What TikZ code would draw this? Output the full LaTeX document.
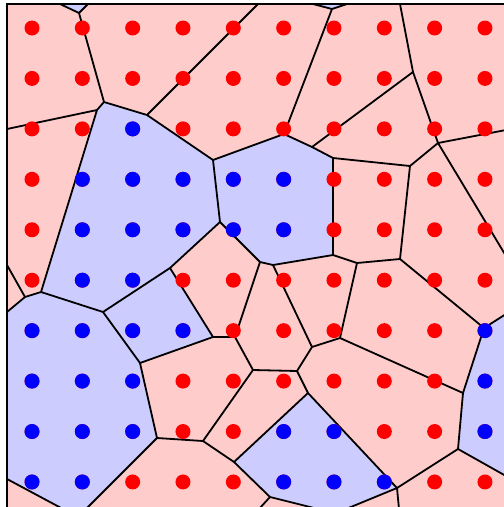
\documentclass[tikz,border=0pt]{standalone}
\definecolor{cpink}{HTML}{FFCCCC}
\definecolor{cblue}{HTML}{CCCCFF}
\begin{document}
\begin{tikzpicture}[x=1pt,y=-1pt,
  edge/.style={line width=1.8pt, line join=round, line cap=round},
  framed/.style={line width=1.6pt},
  rdot/.style={fill=red},
  bdot/.style={fill=blue}]
\useasboundingbox (0,0) rectangle (504,507);
\begin{scope}
\clip (7,4) rectangle (506,509);
\fill[cpink] (7,4) rectangle (506,509);
% blue cells
\fill[cblue] (60,4) -- (88,4) -- (79,13) -- cycle;
\fill[cblue] (313,4) -- (347,4) -- (332,9) -- cycle;
\fill[cblue] (97,110) -- (104,102) -- (147,115) -- (213,160) -- (220,222) -- (170,268) -- (103,312) -- (41,292) -- cycle;
\fill[cblue] (213,160) -- (284,134) -- (312,147) -- (333,158) -- (333,255) -- (273,265) -- (260,262) -- (220,222) -- cycle;
\fill[cblue] (103,312) -- (170,268) -- (213,337) -- (140,363) -- cycle;
\fill[cblue] (7,312) -- (25,297) -- (41,292) -- (103,312) -- (140,363) -- (157,438) -- (88,507) -- (60,507) -- (7,479) -- cycle;
\fill[cblue] (308,393) -- (397,488) -- (350,507) -- (311,507) -- (270,497) -- (234,462) -- cycle;
\fill[cblue] (484,328) -- (506,314) -- (506,476) -- (458,449) -- (463,393) -- cycle;
% edges
\draw[edge]
  (60,4) -- (79,13) (88,4) -- (79,13) (79,13) -- (104,102)
  (104,102) -- (97,110) (97,110) -- (7,129) (97,110) -- (41,292)
  (104,102) -- (147,115) (147,115) -- (258,4) (147,115) -- (213,160)
  (213,160) -- (284,134) (284,134) -- (332,9) (313,4) -- (332,9) (347,4) -- (332,9)
  (284,134) -- (312,147) (312,147) -- (413,72) (312,147) -- (333,158)
  (400,4) -- (413,72) (413,72) -- (438,143) (438,143) -- (506,130)
  (438,143) -- (410,166) (438,143) -- (506,256)
  (333,158) -- (410,166) (333,158) -- (333,255) (410,166) -- (400,259)
  (213,160) -- (220,222) (220,222) -- (260,262) (260,262) -- (273,265)
  (273,265) -- (333,255) (333,255) -- (357,263) (357,263) -- (400,259)
  (400,259) -- (484,328) (484,328) -- (506,314) (484,328) -- (463,393)
  (463,393) -- (340,338) (357,263) -- (340,338) (340,338) -- (312,347)
  (273,265) -- (312,347) (312,347) -- (297,371) (297,371) -- (253,370)
  (297,371) -- (308,393) (308,393) -- (234,462) (308,393) -- (397,488)
  (463,393) -- (458,449) (458,449) -- (506,476) (458,449) -- (397,488)
  (397,488) -- (399,509) (397,488) -- (346,509)
  (270,497) -- (318,509) (270,497) -- (259,509)
  (234,462) -- (270,497) (234,462) -- (203,441) (203,441) -- (253,370)
  (203,441) -- (157,438) (253,370) -- (235,337) (235,337) -- (260,262)
  (235,337) -- (213,337) (213,337) -- (170,268) (213,337) -- (140,363)
  (170,268) -- (220,222) (170,268) -- (103,312) (103,312) -- (41,292)
  (103,312) -- (140,363) (140,363) -- (157,438) (157,438) -- (86,509)
  (41,292) -- (25,297) (25,297) -- (7,265) (25,297) -- (7,312)
  (7,479) -- (63,509);
\end{scope}
% dots
\foreach \j in {0,...,9}{
  \foreach \i in {0,...,9}{
    \fill[rdot] ({32+50.33*\i},{28+50.44*\j}) circle (7.5);
  }
}
\foreach \i/\j in {2/2, 1/3,2/3,3/3,4/3,5/3, 1/4,2/4,3/4,4/4,5/4, 1/5,2/5,
  0/6,1/6,2/6,3/6,9/6, 0/7,1/7,2/7,9/7, 0/8,1/8,2/8,5/8,6/8,9/8,
  0/9,1/9,5/9,6/9,7/9}{
  \fill[bdot] ({32+50.33*\i},{28+50.44*\j}) circle (7.5);
}
% frame
\draw[framed] (7,509) -- (7,4) -- (506,4);
\end{tikzpicture}
\end{document}
